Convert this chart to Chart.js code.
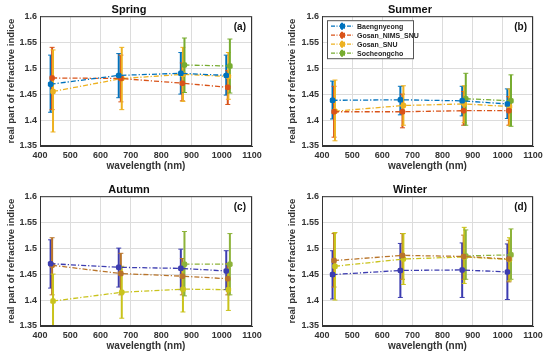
<!DOCTYPE html>
<html>
<head>
<meta charset="utf-8">
<script src="https://cdn.jsdelivr.net/npm/chart.js@4.4.1/dist/chart.umd.min.js"></script>
<style>
  body { margin: 0; background: #fff; }
  #wrap { position: relative; width: 550px; height: 360px; }
  .panel { position: absolute; width: 275px; height: 180px; }
</style>
</head>
<body>
<div id="wrap">
  <div class="panel" style="left:0;top:0"><canvas id="c0"></canvas></div>
  <div class="panel" style="left:275px;top:0"><canvas id="c1"></canvas></div>
  <div class="panel" style="left:0;top:180px"><canvas id="c2"></canvas></div>
  <div class="panel" style="left:275px;top:180px"><canvas id="c3"></canvas></div>
</div>
<script>
// ---- data ----
const stations = ['Baengnyeong', 'Gosan_NIMS_SNU', 'Gosan_SNU', 'Socheongcho'];
const seasons = ['Spring', 'Summer', 'Autumn', 'Winter'];
const panelTags = ['(a)', '(b)', '(c)', '(d)'];

// wavelengths (slightly shifted per station, as in the figure)
const wlBaengnyeong = [435, 660, 865, 1015];
const wlGosanNims = [440, 667, 870, 1020];
const wlGosanSnu = [443, 670, 872, 1022];
const wlSocheongcho = [877, 1027];

// per season: [Baengnyeong, Gosan_NIMS_SNU, Gosan_SNU, Socheongcho]
const springMean = [[1.469, 1.486, 1.490, 1.486], [1.481, 1.480, 1.471, 1.463], [1.455, 1.480, 1.488, 1.484], [1.506, 1.504]];
const springLow  = [[1.415, 1.443, 1.450, 1.448], [1.420, 1.435, 1.437, 1.430], [1.377, 1.420, 1.436, 1.440], [1.453, 1.452]];
const springHigh = [[1.525, 1.528, 1.530, 1.525], [1.540, 1.525, 1.510, 1.495], [1.535, 1.540, 1.540, 1.530], [1.558, 1.556]];

const summerMean = [[1.438, 1.439, 1.437, 1.431], [1.416, 1.416, 1.418, 1.418], [1.417, 1.428, 1.431, 1.426], [1.441, 1.437]];
const summerLow  = [[1.402, 1.410, 1.408, 1.403], [1.367, 1.385, 1.390, 1.390], [1.360, 1.390, 1.395, 1.390], [1.390, 1.388]];
const summerHigh = [[1.475, 1.465, 1.465, 1.460], [1.465, 1.450, 1.455, 1.445], [1.477, 1.466, 1.466, 1.460], [1.490, 1.487]];

const autumnMean = [[1.470, 1.463, 1.461, 1.456], [1.467, 1.451, 1.446, 1.441], [1.398, 1.415, 1.421, 1.420], [1.469, 1.469]];
const autumnLow  = [[1.423, 1.425, 1.420, 1.420], [1.410, 1.410, 1.410, 1.410], [1.345, 1.365, 1.377, 1.380], [1.408, 1.410]];
const autumnHigh = [[1.516, 1.500, 1.498, 1.495], [1.520, 1.490, 1.480, 1.470], [1.450, 1.465, 1.462, 1.460], [1.532, 1.528]];

const winterMean = [[1.449, 1.457, 1.458, 1.454], [1.476, 1.486, 1.484, 1.479], [1.465, 1.479, 1.483, 1.478], [1.485, 1.487]];
const winterLow  = [[1.402, 1.405, 1.405, 1.401], [1.425, 1.440, 1.440, 1.435], [1.400, 1.430, 1.432, 1.437], [1.440, 1.440]];
const winterHigh = [[1.495, 1.509, 1.510, 1.508], [1.528, 1.528, 1.525, 1.515], [1.530, 1.528, 1.540, 1.520], [1.535, 1.537]];

const yTicks = [1.35, 1.4, 1.45, 1.5, 1.55, 1.6];

// ---- styling ----
const wavelengths = [wlBaengnyeong, wlGosanNims, wlGosanSnu, wlSocheongcho];
const colorsTop = ['#0072BD', '#D95319', '#EDB120', '#77AC30'];
const colorsBottom = ['#3c3cb0', '#b8742a', '#c9c31c', '#8db33a'];
const seasonData = [
  [springMean, springLow, springHigh],
  [summerMean, summerLow, summerHigh],
  [autumnMean, autumnLow, autumnHigh],
  [winterMean, winterLow, winterHigh]
];
const FONT = '"Liberation Sans", Arial, sans-serif';

// error bars, box frame, panel tag and legend
const extras = {
  id: 'extras',
  beforeDatasetsDraw(chart) {
    const ctx = chart.ctx, a = chart.chartArea;
    const xs = chart.scales.x, ys = chart.scales.y;
    ctx.save();
    ctx.beginPath();
    ctx.rect(a.left, a.top, a.right - a.left, a.bottom - a.top);
    ctx.clip();
    chart.data.datasets.forEach(ds => {
      ctx.strokeStyle = ds.borderColor;
      ds.data.forEach((p, j) => {
        const x = xs.getPixelForValue(p.x);
        const y1 = ys.getPixelForValue(ds.lo[j]);
        const y2 = ys.getPixelForValue(ds.hi[j]);
        ctx.lineWidth = 2;
        ctx.beginPath();
        ctx.moveTo(x, y1); ctx.lineTo(x, y2);
        ctx.stroke();
        ctx.lineWidth = 1;
        ctx.beginPath();
        ctx.moveTo(x - 2.5, y1); ctx.lineTo(x + 2.5, y1);
        ctx.moveTo(x - 2.5, y2); ctx.lineTo(x + 2.5, y2);
        ctx.stroke();
      });
    });
    ctx.restore();
  },
  afterDraw(chart, args, opts) {
    const ctx = chart.ctx, a = chart.chartArea;
    ctx.save();
    ctx.strokeStyle = '#333';
    ctx.lineWidth = 1;
    ctx.strokeRect(a.left + 0.5, a.top + 0.5, a.right - a.left - 1, a.bottom - a.top - 1);
    ctx.fillStyle = '#111';
    ctx.font = 'bold 10px ' + FONT;
    ctx.textAlign = 'right';
    ctx.textBaseline = 'top';
    ctx.fillText(opts.tag, a.right - 6, a.top + 6);
    if (opts.legend) {
      const bx = a.left + 5, by = a.top + 4, bw = 86, bh = 38;
      ctx.fillStyle = '#fff';
      ctx.fillRect(bx, by, bw, bh);
      ctx.strokeStyle = '#555';
      ctx.strokeRect(bx + 0.5, by + 0.5, bw, bh);
      ctx.font = 'bold 7px ' + FONT;
      ctx.textAlign = 'left';
      ctx.textBaseline = 'middle';
      chart.data.datasets.forEach((ds, i) => {
        const y = by + 6 + i * 9;
        ctx.strokeStyle = ds.borderColor;
        ctx.lineWidth = 1.2;
        ctx.setLineDash([4, 1.5, 1, 1.5]);
        ctx.beginPath();
        ctx.moveTo(bx + 4, y); ctx.lineTo(bx + 26, y);
        ctx.stroke();
        ctx.setLineDash([]);
        ctx.lineWidth = 2;
        ctx.beginPath();
        ctx.moveTo(bx + 15, y - 3.5); ctx.lineTo(bx + 15, y + 3.5);
        ctx.stroke();
        ctx.fillStyle = ds.borderColor;
        ctx.fillRect(bx + 13, y - 2.5, 5, 5);
        ctx.fillStyle = '#222';
        ctx.fillText(ds.label, bx + 30, y + 0.5);
      });
    }
    ctx.restore();
  }
};

function makePanel(k) {
  const [mean, lo, hi] = seasonData[k];
  const cols = k < 2 ? colorsTop : colorsBottom;
  const leftCol = k % 2 === 0;
  const leftPad = leftCol ? 6 : 12;
  const yWidth = leftCol ? 34 : 35;
  const rightPad = leftCol ? 23 : 17;
  const datasets = stations.map((name, i) => ({
    label: name,
    data: wavelengths[i].map((w, j) => ({ x: w, y: mean[i][j] })),
    lo: lo[i],
    hi: hi[i],
    borderColor: cols[i],
    backgroundColor: cols[i],
    borderWidth: 1.3,
    borderDash: [5, 2, 1.2, 2],
    pointStyle: 'rectRounded',
    pointRadius: 3.2,
    pointBorderWidth: 0,
    tension: 0
  }));
  new Chart(document.getElementById('c' + k), {
    type: 'line',
    data: { datasets },
    options: {
      responsive: true,
      maintainAspectRatio: false,
      animation: false,
      layout: { padding: { left: leftPad, right: rightPad, top: 0, bottom: 8 } },
      plugins: {
        legend: { display: false },
        tooltip: { enabled: false },
        title: {
          display: true, text: seasons[k], color: '#111',
          font: { family: FONT, size: 11, weight: 'bold', lineHeight: 1.2 },
          padding: { top: 3, bottom: 0 }
        },
        extras: { tag: panelTags[k], legend: k === 1 }
      },
      scales: {
        x: {
          type: 'linear', min: 400, max: 1100,
          ticks: { stepSize: 100, color: '#333', padding: 4, maxRotation: 0, font: { family: FONT, size: 9, weight: 'bold' },
                   callback: v => String(v) },
          grid: { color: '#dcdcdc', drawTicks: false },
          border: { color: '#333' },
          title: { display: true, text: 'wavelength (nm)', color: '#333', padding: { top: 1, bottom: 0 }, font: { family: FONT, size: 10, weight: 'bold' } },
          afterFit(s) { s.height = 26; }
        },
        y: {
          min: 1.35, max: 1.6,
          afterBuildTicks(s) { s.ticks = yTicks.map(v => ({ value: v })); },
          ticks: { color: '#333', padding: 3, font: { family: FONT, size: 9, weight: 'bold' },
                   callback: v => String(Number(v.toFixed(2))) },
          grid: { color: '#dcdcdc', drawTicks: false },
          border: { color: '#333' },
          title: { display: true, text: 'real part of refractive indice', color: '#333', padding: { top: 0, bottom: 2 }, font: { family: FONT, size: 9.5, weight: 'bold' } },
          afterFit(s) { s.width = yWidth; }
        }
      }
    },
    plugins: [extras]
  });
}

[0, 1, 2, 3].forEach(makePanel);
</script>
</body>
</html>
